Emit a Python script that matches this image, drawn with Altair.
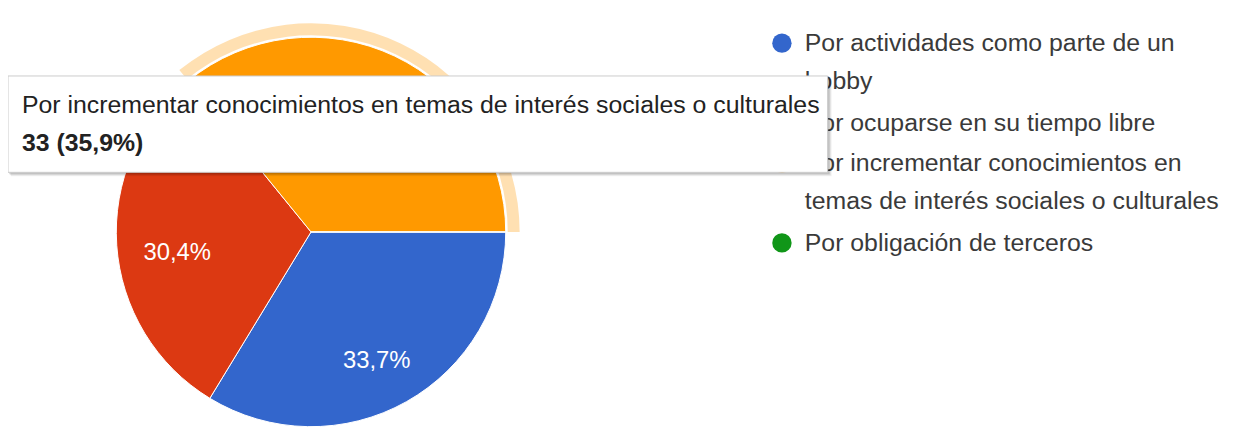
import math
import altair as alt
import pandas as pd

# ---- data ----
categories = [
    "Por actividades como parte de un hobby",
    "Por ocuparse en su tiempo libre",
    "Por incrementar conocimientos en temas de interés sociales o culturales",
    "Por obligación de terceros",
]
counts = [31, 28, 33, 0]
colors = ["#3366cc", "#dc3912", "#ff9900", "#109618"]
legend_lines = [
    ["Por actividades como parte de un", "hobby"],
    ["Por ocuparse en su tiempo libre"],
    ["Por incrementar conocimientos en", "temas de interés sociales o culturales"],
    ["Por obligación de terceros"],
]
highlight_index = 2

total = sum(counts)
pcts = [c / total * 100 for c in counts]
pct_text = [f"{p:.1f}%".replace(".", ",") for p in pcts]
df = pd.DataFrame({
    "cat": categories,
    "n": counts,
    "order": list(range(len(categories))),
    "lbl": [t if c > 0 else "" for t, c in zip(pct_text, counts)],
})

FONT = "Liberation Sans"
W, H = 1229, 433
CX, CY, R = 305, 224, 196

color_scale = alt.Scale(domain=categories, range=colors)
theta_enc = alt.Theta("n:Q", stack=True,
                      scale=alt.Scale(range=[math.pi / 2, math.pi / 2 + 2 * math.pi]))

base = alt.Chart(df).encode(
    theta=theta_enc,
    order=alt.Order("order:Q"),
    x=alt.value(CX),
    y=alt.value(CY),
)

pie = base.mark_arc(radius=R, stroke="white", strokeWidth=1).encode(
    color=alt.Color("cat:N", scale=color_scale, legend=None)
)
halo = base.mark_arc(radius=R + 14, radius2=R + 2, color=colors[highlight_index]).encode(
    opacity=alt.condition(alt.datum.cat == categories[highlight_index],
                          alt.value(0.3), alt.value(0))
)
labels = base.mark_text(radius=135, dy=12, font=FONT, fontSize=24,
                        color="white", align="center", baseline="middle").encode(
    text="lbl:N"
)

dummy = pd.DataFrame({"a": [0]})
layers = [pie, halo, labels]

# ---- legend ----
LX_MARK, LX_TEXT = 779, 802
mark_y = [34, 114, 155, 235]
text_y = [42, 122, 163, 243]
for i, cat in enumerate(categories):
    layers.append(
        alt.Chart(dummy).mark_point(filled=True, shape="circle", size=380,
                                    color=colors[i], opacity=1).encode(
            x=alt.value(LX_MARK), y=alt.value(mark_y[i]))
    )
    layers.append(
        alt.Chart(dummy).mark_text(text=legend_lines[i], font=FONT, fontSize=25,
                                   color="#3a3a3a", align="left",
                                   baseline="alphabetic", lineHeight=38).encode(
            x=alt.value(LX_TEXT), y=alt.value(text_y[i]))
    )

# ---- hover tooltip box ----
tx0, tx1, ty0, ty1 = 0, 825, 67, 164
for off, op in [(4, 0.06), (3, 0.08), (2, 0.12)]:
    layers.append(
        alt.Chart(dummy).mark_rect(color="black", opacity=op).encode(
            x=alt.value(tx0 + off - 1), x2=alt.value(tx1 + off),
            y=alt.value(ty0 + off - 1), y2=alt.value(ty1 + off))
    )
layers.append(
    alt.Chart(dummy).mark_rect(fill="white", stroke="#cccccc", strokeWidth=1).encode(
        x=alt.value(tx0), x2=alt.value(tx1), y=alt.value(ty0), y2=alt.value(ty1))
)
hl_line1 = categories[highlight_index]
hl_line2 = f"{counts[highlight_index]} ({pct_text[highlight_index]})"
layers.append(
    alt.Chart(dummy).mark_text(text=hl_line1, font=FONT, fontSize=25, color="#222222",
                               align="left", baseline="alphabetic").encode(
        x=alt.value(14), y=alt.value(104))
)
layers.append(
    alt.Chart(dummy).mark_text(text=hl_line2, font=FONT, fontSize=25, fontWeight="bold",
                               color="#222222", align="left", baseline="alphabetic").encode(
        x=alt.value(14), y=alt.value(143))
)

chart = alt.layer(*layers).properties(
    width=W, height=H, padding=0, autosize=alt.AutoSizeParams(type="none"),
    background="white",
).configure_view(stroke=None)

chart.save("out.html", embed_options={"renderer": "svg", "actions": False})
